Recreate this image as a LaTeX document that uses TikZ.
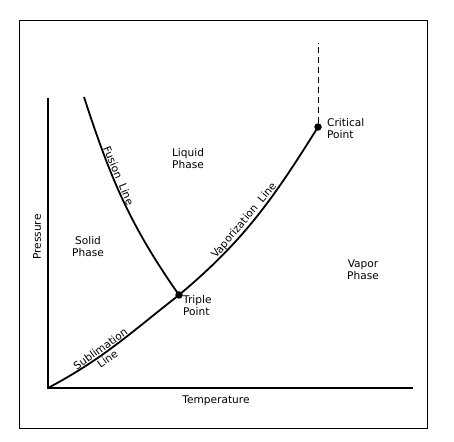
\documentclass[tikz,border=0pt]{standalone}
\usepackage{fontspec}
\setmainfont{DejaVu Sans}
\usetikzlibrary{positioning}

\begin{document}
\begin{tikzpicture}[
  x=1pt,y=1pt,
  every node/.style={font=\fontsize{10.6}{12}\selectfont,inner sep=1pt},
  phase/.style={align=center},
  pointlabel/.style={align=left,anchor=west},
  curve/.style={line width=1.8pt},
  axis/.style={line width=1.7pt},
  dot/.style={circle,fill=black,inner sep=0pt,minimum size=7.5pt}
]
  \useasboundingbox (0,0) rectangle (454,441);
  \draw[line width=1pt] (19,13) rectangle (427,420);
  \coordinate (O) at (48,53);
  \coordinate (ytop) at (48,343);
  \coordinate (xend) at (413,53);
  \coordinate (ftop) at (84,344);
  \coordinate (dtop) at (318,398);
  \node[dot] (tp) at (179,146) {};
  \node[dot] (cp) at (318,314) {};
  \draw[axis] (ytop) -- (O) -- (xend);
  \draw[curve] (O) to[out=28,in=218]
    node[sloped,align=center,pos=0.40] {Sublimation\\Line} (tp.center);
  \draw[curve] (tp.center) to[out=40,in=238]
    node[sloped,above,pos=0.45] {Vaporization\ \ Line} (cp.center);
  \draw[curve] (ftop) to[out=-72,in=125]
    node[sloped,above,pos=0.38] {Fusion\ \ Line} (tp.center);
  \draw[line width=1pt,dash pattern=on 6pt off 4pt] (cp) -- (dtop);
  \node[pointlabel] (tplabel) at (182,135) {Triple\\Point};
  \node[pointlabel] (cplabel) at (326,312) {Critical\\Point};
  \node[phase] (liquid) at (188,282) {Liquid\\Phase};
  \node[phase] (solid) at (88,194) {Solid\\Phase};
  \node[phase] (vapor) at (363,171) {Vapor\\Phase};
  \node[rotate=90] (pres) at (37,204) {Pressure};
  \node (temp) at (216,40) {Temperature};
\end{tikzpicture}
\end{document}
